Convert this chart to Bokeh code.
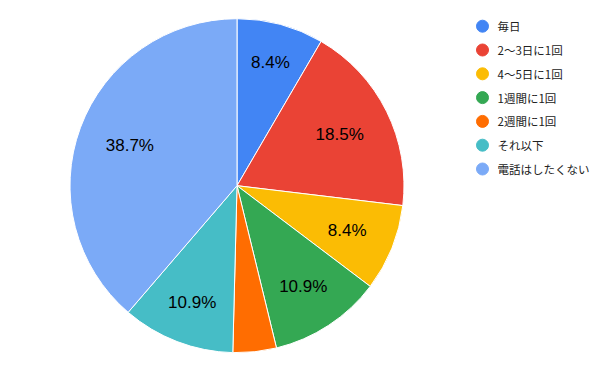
import math
from bokeh.plotting import figure
from bokeh.models import Range1d, ColumnDataSource
from bokeh.core.properties import value
from bokeh.embed import file_html
from bokeh.resources import INLINE

categories = ["毎日", "2～3日に1回", "4～5日に1回", "1週間に1回", "2週間に1回", "それ以下", "電話はしたくない"]
shares = [8.4, 18.5, 8.4, 10.9, 4.2, 10.9, 38.7]
colors = ["#4285f4", "#ea4335", "#fbbc04", "#34a853", "#ff6d01", "#46bdc6", "#7baaf7"]

W, H = 600, 371
cx, cy, r = 236.5, H - 185.2, 167
label_font = 17
label_outer = 139

p = figure(width=W, height=H, output_backend="svg", toolbar_location=None,
           x_range=Range1d(0, W), y_range=Range1d(0, H), min_border=0)
p.axis.visible = False
p.grid.visible = False
p.outline_line_color = None
p.background_fill_color = "white"
p.border_fill_color = "white"

total = sum(shares)
starts, ends, mids = [], [], []
cum = 0.0
for s in shares:
    a0 = math.pi / 2 - 2 * math.pi * cum / total
    cum += s
    a1 = math.pi / 2 - 2 * math.pi * cum / total
    starts.append(a0)
    ends.append(a1)
    mids.append((a0 + a1) / 2)

src = ColumnDataSource(dict(start=starts, end=ends, color=colors))
p.wedge(x=cx, y=cy, radius=r, start_angle="start", end_angle="end", direction="clock",
        fill_color="color", line_color="white", line_width=1, source=src)

# percentage labels
lx, ly, lt = [], [], []
for s, m in zip(shares, mids):
    if s < 5:
        continue
    txt = f"{s:.1f}%"
    ndig = sum(ch.isdigit() for ch in txt)
    w = label_font * (0.556 * ndig + 0.278 + 0.889)
    h = label_font * 0.72
    ux, uy = math.cos(m), math.sin(m)
    ext = (w / 2) * abs(ux) + (h / 2) * abs(uy)
    d = label_outer - ext
    lx.append(cx + d * ux)
    ly.append(cy + d * uy)
    lt.append(txt)
p.text(x=lx, y=ly, text=lt, text_align="center", text_baseline="middle",
       text_font=value("Liberation Sans"), text_font_size=f"{label_font}px", text_color="#000000")

# legend
leg_x, leg_y0, leg_dy = 482, H - 25.7, 23.8
gy = [leg_y0 - i * leg_dy for i in range(len(categories))]
p.scatter(x=[leg_x] * len(categories), y=gy, size=12, marker="circle",
          fill_color=colors, line_color=colors)
p.text(x=[leg_x + 15] * len(categories), y=gy, text=categories, text_align="left",
       text_baseline="middle", text_font=value("Noto Sans CJK JP"), text_font_size="11.5px",
       text_color="#222222")

open("out.html", "w").write(file_html(p, INLINE))
